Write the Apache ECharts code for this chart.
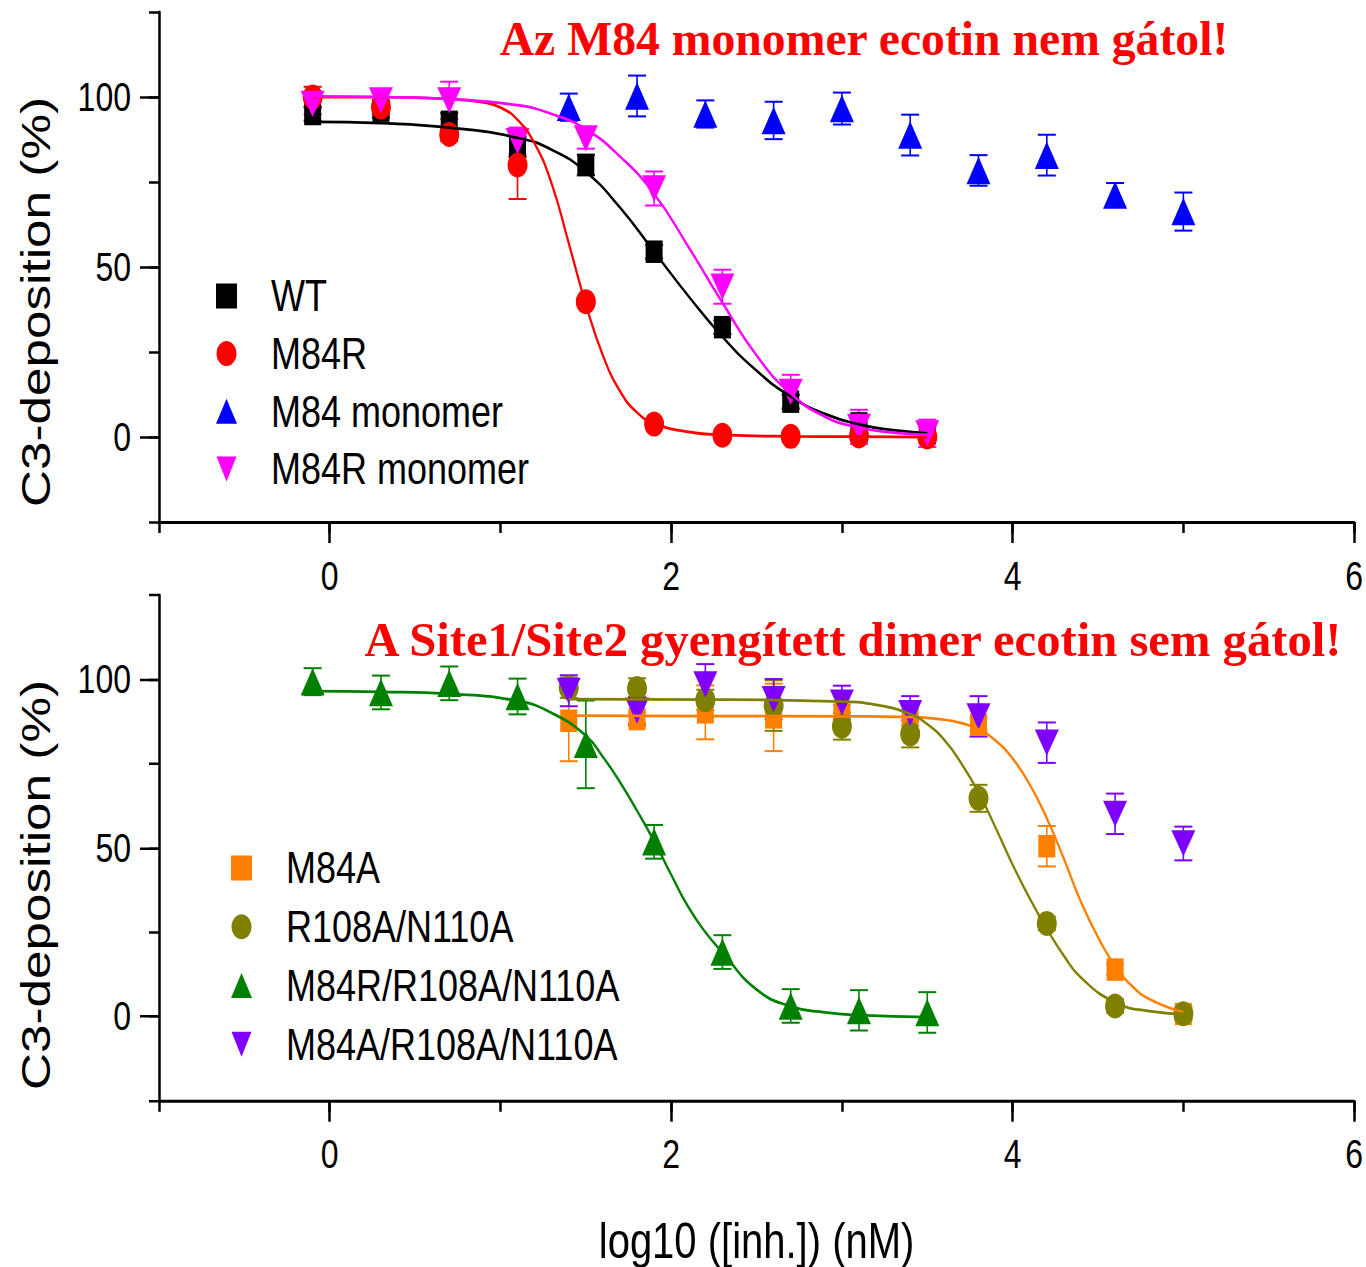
<!DOCTYPE html>
<html>
<head>
<meta charset="utf-8">
<title>C3-deposition</title>
<script src="https://cdn.jsdelivr.net/npm/echarts@6/dist/echarts.min.js"></script>
<style>
html,body{margin:0;padding:0;background:#fff;}
body{width:1366px;height:1267px;}
/* the original figure is stretched vertically; draw at 1/1.25 height and stretch back */
#chart{width:1366px;height:1013.6px;transform:scaleY(1.25);transform-origin:0 0;}
</style>
</head>
<body>
<div id="chart"></div>
<script>
var S = 1.25;

// tick labels
var xMajor = [0, 2, 4, 6];
var yMajor = [0, 50, 100];

// top panel: measured points
var xTop = [-0.1, 0.3, 0.7, 1.1, 1.5, 1.9, 2.3, 2.7, 3.1, 3.5];
var wt = [95, 96, 92.7, 85.4, 80, 54.5, 32.3, 10.4, 4, 1.1];
var wtErr = [2, 2, 2.5, 3, 3, 2, 2, 2, 2, 2];
var m84r = [100, 97, 89, 80, 39.8, 3.8, 0.5, 0.2, 0.3, 0];
var m84rErr = [3, 2, 2, 10, 1, 1, 1, 1, 1, 1];
var m84rMono = [98, 99, 99, 87, 87.8, 73.1, 44.2, 13.3, 3, 1.1];
var m84rMonoErr = [3, 3, 5.5, 4, 3, 5, 5, 5, 5, 4];
var xMono = [1.4, 1.8, 2.2, 2.6, 3.0, 3.4, 3.8, 4.2, 4.6, 5.0];
var m84Mono = [97, 100.3, 95, 93.1, 96.6, 88.8, 78.4, 82.9, 71.2, 66.3];
var m84MonoErr = [4, 6, 4, 5.5, 4.7, 6, 4.5, 6, 3.5, 5.6];

// top panel: fitted curves
var wtFitX = [-0.1, 0.3, 0.7, 1.1, 1.3, 1.5, 1.7, 1.9, 2.1, 2.3, 2.5, 2.7, 2.9, 3.1, 3.3, 3.5];
var wtFitY = [92.7, 92.3, 91.0, 88.0, 84.5, 78.0, 67.5, 54.5, 41.5, 29.5, 19.5, 11.9, 6.8, 3.7, 2.0, 1.1];
var m84rFitX = [-0.1, 0.3, 0.7, 0.9, 1.0, 1.1, 1.2, 1.3, 1.4, 1.5, 1.6, 1.7, 1.8, 1.9, 2.1, 2.3, 2.7, 3.1, 3.5];
var m84rFitY = [100, 100, 99.4, 98.4, 96.9, 93.3, 86.3, 74.5, 57, 39, 24, 13.5, 7.2, 4.0, 1.5, 0.6, 0.2, 0.1, 0];
var m84rMonoFitX = [-0.1, 0.3, 0.7, 1.1, 1.3, 1.5, 1.7, 1.9, 2.1, 2.3, 2.5, 2.7, 2.9, 3.1, 3.3, 3.5];
var m84rMonoFitY = [100.2, 100, 99.4, 97.6, 95, 90.5, 82.5, 71.5, 56, 39.5, 24, 12.8, 6.0, 2.8, 1.3, 0.6];

// bottom panel: measured points
var xBot = [-0.1, 0.3, 0.7, 1.1, 1.5, 1.9, 2.3, 2.7, 3.1, 3.5];
var tripleR = [99.3, 96.1, 98.8, 94.9, 80.7, 51.8, 19.1, 3.1, 1.8, 1.2];
var tripleRErr = [4, 5, 5, 5.3, 13, 5, 5, 5, 6, 6];
var xDim = [1.4, 1.8, 2.2, 2.6, 3.0, 3.4, 3.8, 4.2, 4.6, 5.0];
var m84a = [87.7, 88.2, 90.2, 88.7, 89.5, 89.2, 86.5, 50.5, 13.9, 0.7];
var m84aErr = [12, 2, 8, 10, 3, 3, 2, 6, 1.5, 1.5];
var r108 = [97.5, 97.3, 93.9, 92.2, 86.1, 83.8, 64.7, 27.6, 3.1, 0.8];
var r108Err = [3, 3, 3, 7.5, 4, 4, 4, 2, 2, 2];
var tripleA = [96.6, 90.7, 98.5, 94.1, 93.1, 90, 89, 81.2, 60.1, 51.3];
var tripleAErr = [4.6, 4, 6, 6, 5, 5, 6, 6, 6, 5];

// bottom panel: fitted curves
var tripleRFitX = [-0.1, 0.3, 0.7, 1.1, 1.3, 1.5, 1.6, 1.7, 1.8, 1.9, 2.0, 2.1, 2.2, 2.3, 2.5, 2.7, 2.9, 3.1, 3.5];
var tripleRFitY = [96.5, 96.3, 95.7, 93.6, 90, 83.3, 77, 69.5, 61, 52, 42, 32.5, 25, 19, 8, 3.0, 1.2, 0.4, -0.2];
var r108FitX = [1.4, 2.2, 3.0, 3.2, 3.4, 3.5, 3.6, 3.7, 3.8, 3.9, 4.0, 4.1, 4.2, 4.3, 4.4, 4.6, 4.8, 5.0];
var r108FitY = [94.1, 94, 93.4, 92.4, 89.7, 86.7, 82, 75, 66.5, 56, 45, 35, 26, 18, 11.5, 4.2, 1.6, 0.8];
var m84aFitX = [1.4, 2.2, 3.0, 3.4, 3.6, 3.7, 3.8, 3.9, 4.0, 4.1, 4.2, 4.3, 4.4, 4.5, 4.6, 4.7, 4.8, 5.0];
var m84aFitY = [89.2, 89.1, 89, 88.8, 88, 87, 85.2, 81.8, 76.5, 68.8, 58.8, 46.8, 34, 23.5, 15, 9, 5.2, 1.2];

var SANS = '"Liberation Sans",Arial,sans-serif';
var DOWN = 'path://M0,0L2,0L1,2Z';

function zip(xs, ys) {
    return xs.map(function (x, i) { return [x, ys[i]]; });
}

function points(name, xs, ys, color, symbol, size, ax) {
    return {
        type: 'scatter', name: name, xAxisIndex: ax, yAxisIndex: ax,
        data: zip(xs, ys), symbol: symbol, symbolSize: size,
        itemStyle: {color: color, opacity: 1}, z: 4, silent: true
    };
}

function fit(name, xs, ys, color, ax) {
    return {
        type: 'line', name: name + ' fit', xAxisIndex: ax, yAxisIndex: ax,
        data: zip(xs, ys), smooth: 0.5,
        showSymbol: false, symbol: 'none',
        lineStyle: {color: color, width: 2.2}, z: 5, silent: true
    };
}

function errbars(name, xs, ys, errs, color, ax) {
    return {
        type: 'custom', name: name + ' err', xAxisIndex: ax, yAxisIndex: ax, z: 3, silent: true,
        data: xs.map(function (x, i) { return [x, ys[i] - errs[i], ys[i] + errs[i]]; }),
        encode: {x: 0, y: [1, 2]},
        renderItem: function (params, api) {
            var lo = api.coord([api.value(0), api.value(1)]);
            var hi = api.coord([api.value(0), api.value(2)]);
            var w = 9;
            var st = {stroke: color, lineWidth: 1.6};
            return {type: 'group', children: [
                {type: 'line', shape: {x1: lo[0], y1: lo[1], x2: hi[0], y2: hi[1]}, style: st},
                {type: 'line', shape: {x1: lo[0] - w, y1: lo[1], x2: lo[0] + w, y2: lo[1]}, style: st},
                {type: 'line', shape: {x1: hi[0] - w, y1: hi[1], x2: hi[0] + w, y2: hi[1]}, style: st}
            ]};
        }
    };
}

function xAxes(g, withName) {
    var main = {
        type: 'value', gridIndex: g, min: -1, max: 6, position: 'bottom',
        axisLine: {show: true, onZero: false, lineStyle: {color: '#000', width: 2.4}},
        axisTick: {show: true, customValues: xMajor, length: 21 / S, lineStyle: {color: '#000', width: 2.5}},
        axisLabel: {customValues: xMajor, margin: 27, color: '#000', fontFamily: SANS, fontSize: 32},
        splitLine: {show: false}
    };
    if (withName) {
        main.name = 'log10 ([inh.]) (nM)';
        main.nameLocation = 'middle';
        main.nameGap = 92;
        main.nameTextStyle = {color: '#000', fontFamily: SANS, fontSize: 40};
    }
    var minor = {
        type: 'value', gridIndex: g, min: -1, max: 6, interval: 1, position: 'bottom',
        axisLine: {show: false, onZero: false},
        axisTick: {show: true, length: 11 / S, lineStyle: {color: '#000', width: 2.5}},
        axisLabel: {show: false}, splitLine: {show: false}
    };
    return [main, minor];
}

function yAxes(g) {
    var main = {
        type: 'value', gridIndex: g, min: -25, max: 125, position: 'left',
        axisLine: {show: true, onZero: false, lineStyle: {color: '#000', width: 2.5}},
        axisTick: {show: true, customValues: yMajor, length: 19, lineStyle: {color: '#000', width: 2}},
        axisLabel: {customValues: yMajor, margin: 28, color: '#000', fontFamily: SANS, fontSize: 32},
        splitLine: {show: false}
    };
    var minor = {
        type: 'value', gridIndex: g, min: -25, max: 125, interval: 25, position: 'left',
        axisLine: {show: false, onZero: false},
        axisTick: {show: true, length: 10, lineStyle: {color: '#000', width: 2}},
        axisLabel: {show: false}, splitLine: {show: false}
    };
    return [main, minor];
}

var legendText = {color: '#000', fontFamily: SANS, fontSize: 36, padding: [0, 0, 0, 29]};

function titleText(txt, x, y, sx) {
    return {
        type: 'text', x: x, y: y, scaleX: sx,
        style: {text: txt, font: 'bold 38px "Liberation Serif"', fill: '#ff0000',
            align: 'center', verticalAlign: 'middle', textAlign: 'center', textVerticalAlign: 'middle'}
    };
}

function yTitle(y) {
    return {
        type: 'text', x: 36, y: y, rotation: Math.PI / 2,
        style: {text: 'C3-deposition (%)', font: '41px "Liberation Sans"', fill: '#000',
            align: 'center', verticalAlign: 'middle', textAlign: 'center', textVerticalAlign: 'middle'}
    };
}

var chart = echarts.init(document.getElementById('chart'), null, {renderer: 'svg', width: 1366, height: 1013.6});
chart.setOption({
    animation: false,
    backgroundColor: '#fff',
    grid: [
        {left: 159, right: 10, top: 12 / S, height: 510 / S},
        {left: 159, right: 10, top: 595 / S, height: 510 / S}
    ],
    xAxis: xAxes(0, false).concat(xAxes(1, true)),
    yAxis: yAxes(0).concat(yAxes(1)),
    legend: [{
        data: ['WT', 'M84R', 'M84 monomer', 'M84R monomer'],
        orient: 'vertical', left: 211, top: 296 / S - 23, itemWidth: 21, itemHeight: 20, itemGap: 10.1,
        selectedMode: false, textStyle: legendText
    }, {
        data: ['M84A', 'R108A/N110A', 'M84R/R108A/N110A', 'M84A/R108A/N110A'],
        orient: 'vertical', left: 226, top: 868 / S - 23, itemWidth: 21, itemHeight: 20, itemGap: 11,
        selectedMode: false, textStyle: legendText
    }],
    graphic: [
        titleText('Az M84 monomer ecotin nem gátol!', 864, 39 / S, 1.255),
        titleText('A Site1/Site2 gyengített dimer ecotin sem gátol!', 853, 640 / S, 1.28),
        yTitle(302 / S),
        yTitle(885 / S)
    ],
    series: [
        errbars('WT', xTop, wt, wtErr, '#000000', 0),
        errbars('M84R', xTop, m84r, m84rErr, '#ff0000', 0),
        errbars('M84 monomer', xMono, m84Mono, m84MonoErr, '#0000ff', 0),
        errbars('M84R monomer', xTop, m84rMono, m84rMonoErr, '#ff00ff', 0),
        points('WT', xTop, wt, '#000000', 'rect', [17, 18], 0),
        points('M84R', xTop, m84r, '#ff0000', 'circle', [20, 20], 0),
        points('M84 monomer', xMono, m84Mono, '#0000ff', 'triangle', [24, 22], 0),
        points('M84R monomer', xTop, m84rMono, '#ff00ff', DOWN, [24, 21], 0),
        fit('WT', wtFitX, wtFitY, '#000000', 0),
        fit('M84R', m84rFitX, m84rFitY, '#ff0000', 0),
        fit('M84R monomer', m84rMonoFitX, m84rMonoFitY, '#ff00ff', 0),

        errbars('M84A', xDim, m84a, m84aErr, '#ff8000', 2),
        errbars('R108A/N110A', xDim, r108, r108Err, '#808000', 2),
        errbars('M84R/R108A/N110A', xBot, tripleR, tripleRErr, '#008000', 2),
        errbars('M84A/R108A/N110A', xDim, tripleA, tripleAErr, '#8000ff', 2),
        points('M84A', xDim, m84a, '#ff8000', 'rect', [17, 18], 2),
        points('R108A/N110A', xDim, r108, '#808000', 'circle', [20, 20], 2),
        points('M84R/R108A/N110A', xBot, tripleR, '#008000', 'triangle', [24, 22], 2),
        points('M84A/R108A/N110A', xDim, tripleA, '#8000ff', DOWN, [24, 21], 2),
        fit('M84A', m84aFitX, m84aFitY, '#ff8000', 2),
        fit('R108A/N110A', r108FitX, r108FitY, '#808000', 2),
        fit('M84R/R108A/N110A', tripleRFitX, tripleRFitY, '#008000', 2)
    ]
});
</script>
</body>
</html>
